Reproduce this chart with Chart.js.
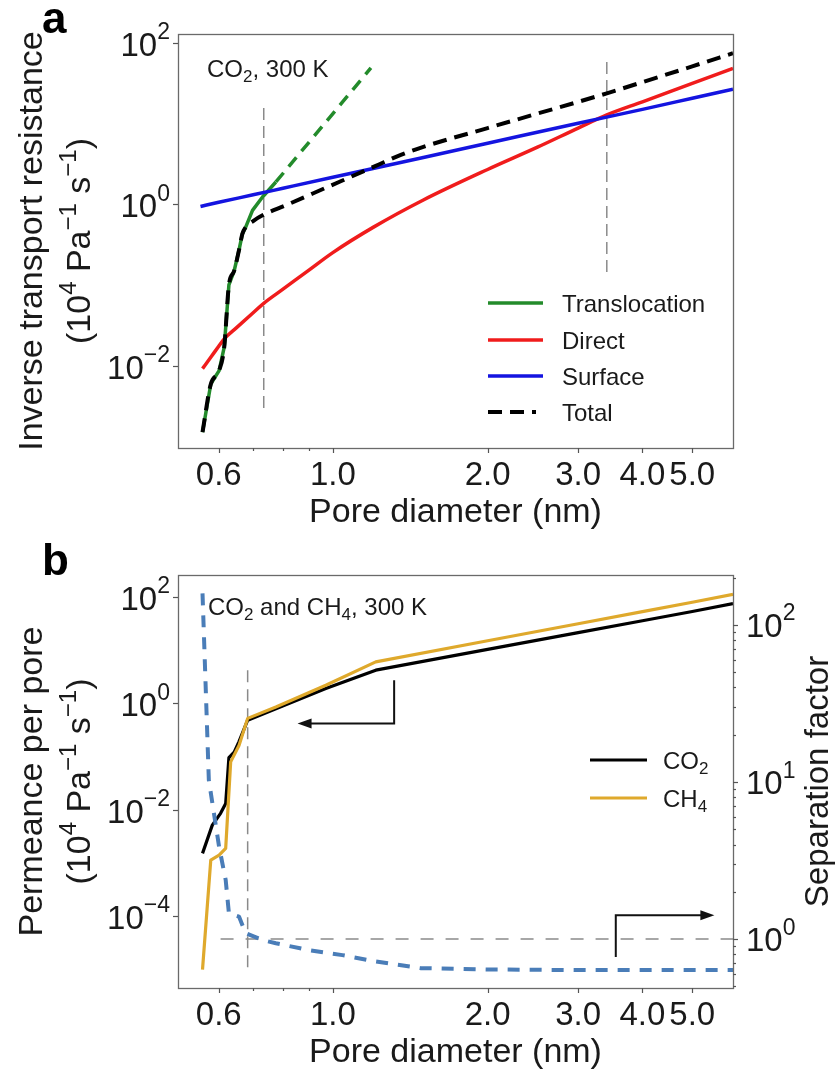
<!DOCTYPE html>
<html>
<head>
<meta charset="utf-8">
<script src="https://cdn.jsdelivr.net/npm/chart.js@4/dist/chart.umd.min.js"></script>
<style>
  html, body { margin: 0; padding: 0; background: #ffffff; }
  #wrap { position: relative; width: 835px; height: 1074px; overflow: hidden; }
  canvas { position: absolute; left: 0; }
  #panelA { top: 0; }
  #panelB { top: 532px; }
</style>
</head>
<body>
<div id="wrap">
  <canvas id="panelA" width="835" height="532"></canvas>
  <canvas id="panelB" width="835" height="542"></canvas>
</div>
<script>
// ---------- Panel a: inverse transport resistance of CO2 at 300 K ----------
const diamTranslocation = [0.558, 0.579, 0.601, 0.615, 0.628, 0.643, 0.657, 0.667, 0.677, 0.698, 0.730, 0.775, 1.186];
const translocation     = [0.0015, 0.0059, 0.0087, 0.017, 0.10, 0.15, 0.27, 0.43, 0.52, 0.84, 1.23, 1.89, 48.9];
const translocationDashedFrom = 0.775;   // beyond this diameter the curve is an extrapolation

const diamDirect = [0.558, 0.580, 0.600, 0.615, 0.650, 0.700, 0.733, 0.80, 0.90, 1.0, 1.2, 1.5, 2.0, 2.5, 3.0, 3.41, 4.0, 5.0, 6.0];
const direct     = [0.0092, 0.0129, 0.0174, 0.0215, 0.0296, 0.0453, 0.0589, 0.0887, 0.154, 0.252, 0.521, 1.13, 2.7, 5.1, 8.8, 12.8, 18.6, 31.5, 48.3];

const diamSurface = [0.553, 0.6, 0.7, 0.8, 1.0, 1.5, 2.0, 3.0, 4.0, 5.0, 6.0];
const surface     = [0.94, 1.06, 1.31, 1.58, 2.16, 3.8, 5.7, 10.1, 15.0, 20.6, 26.7];

const diamTotal = [0.558, 0.579, 0.601, 0.615, 0.628, 0.643, 0.657, 0.667, 0.677, 0.700, 0.730, 0.81, 0.969, 1.212, 1.356, 1.5, 2.0, 2.5, 3.0, 3.41, 4.0, 5.0, 6.0];
const total     = [0.0015, 0.0059, 0.0087, 0.017, 0.10, 0.15, 0.27, 0.43, 0.52, 0.62, 0.73, 0.97, 1.6, 2.99, 4.1, 5.15, 8.8, 13.3, 18.6, 23.7, 32.6, 51.2, 74.5];

// vertical guide lines (diameter, upper and lower end)
const guideDiamA   = [0.734, 3.41];
const guideTopA    = [15.6, 58];
const guideBottomA = [0.00276, 0.124];

// ---------- Panel b: permeance per pore and separation factor ----------
const diamCO2 = [0.558, 0.583, 0.605, 0.619, 0.628, 0.643, 0.657, 0.683, 0.775, 0.969, 1.212, 2.0, 3.0, 4.0, 5.0, 6.0];
const permCO2 = [0.0015, 0.0051, 0.0085, 0.013, 0.095, 0.12, 0.19, 0.48, 0.79, 1.89, 4.2, 10.3, 21.3, 35.7, 53.4, 74.8];

const diamCH4 = [0.558, 0.579, 0.601, 0.619, 0.633, 0.657, 0.683, 0.775, 0.969, 1.212, 2.0, 3.0, 4.0, 5.0, 6.0];
const permCH4 = [0.0000098, 0.00112, 0.00139, 0.00186, 0.079, 0.16, 0.52, 0.85, 2.18, 6.0, 15.0, 31.4, 52.9, 79.5, 112];

const diamSep   = [0.558, 0.574, 0.601, 0.619, 0.628, 0.657, 0.677, 0.730, 0.775, 0.90, 1.044, 1.212, 1.48, 2.0, 3.0, 6.0];
const sepFactor = [159, 10.3, 3.87, 2.38, 1.46, 1.39, 1.09, 0.985, 0.94, 0.85, 0.79, 0.72, 0.653, 0.64, 0.635, 0.635];

const guideDiamB = 0.683, guideTopB = 4.17, guideBottomB = 0.0000083;   // vertical, left axis
const unitySep = 1, unityFrom = 0.605, unityTo = 6.0;                    // horizontal, right axis

// arrows pointing at the axis each family of curves belongs to
const arrowLeftX  = [1.316, 1.316, 0.854], arrowLeftY  = [2.71, 0.415, 0.415];
const arrowRightX = [3.55, 3.55, 5.52],    arrowRightY = [0.77, 1.42, 1.42];

// ---------- axes ----------
const diamMin = 0.5, diamMax = 6.0;
const diamTicks = [0.6, 1.0, 2.0, 3.0, 4.0, 5.0];
const diamTickLabels = ['0.6', '1.0', '2.0', '3.0', '4.0', '5.0'];
const diamMinorTicks = [0.7, 0.8, 0.9];
const yRangeA = [0.000955, 128.8], yExpA = [-2, 0, 2];
const yRangeB = [0.0000044, 259],  yExpB = [-4, -2, 0, 2];
const sepRange = [0.488, 208],     sepExp = [0, 1, 2];
const sepMinor = [0.5, 0.6, 0.7, 0.8, 0.9, 2, 3, 4, 5, 6, 7, 8, 9, 20, 30, 40, 50, 60, 70, 80, 90, 200];

// ---------- styling ----------
const FONT = '"Liberation Sans", Arial, Helvetica, sans-serif';
const TEXT = '#1a1a1a', FRAME = '#6a6a6a', TICK = '#555555', GUIDE = '#8a8a8a';
const TICK_PX = 33, TITLE_PX = 34, NOTE_PX = 24, PANEL_PX = 44;

const pts = (xs, ys) => xs.map((x, i) => ({ x, y: ys[i] }));

// text with ^{..} superscripts and _{..} subscripts
function parseRich(str) {
  const parts = [];
  const re = /(\^\{[^}]*\}|_\{[^}]*\})/g;
  let last = 0, m;
  while ((m = re.exec(str))) {
    if (m.index > last) parts.push({ t: str.slice(last, m.index), s: 0 });
    parts.push({ t: m[0].slice(2, -1), s: m[0][0] === '^' ? 1 : -1 });
    last = m.index + m[0].length;
  }
  if (last < str.length) parts.push({ t: str.slice(last), s: 0 });
  return parts;
}
function richWidth(ctx, parts, size, bold) {
  let w = 0;
  for (const p of parts) {
    ctx.font = `${bold ? 'bold ' : ''}${p.s ? Math.round(size * 0.7) : size}px ${FONT}`;
    w += ctx.measureText(p.t).width;
  }
  return w;
}
function drawRich(ctx, str, x, y, size, align, opts = {}) {
  const parts = parseRich(str);
  const w = richWidth(ctx, parts, size, opts.bold);
  let cx = align === 'center' ? x - w / 2 : align === 'right' ? x - w : x;
  ctx.fillStyle = opts.color || TEXT;
  ctx.textAlign = 'left';
  ctx.textBaseline = 'alphabetic';
  const rise = opts.rise || 0.42;
  for (const p of parts) {
    const sz = p.s ? Math.round(size * 0.7) : size;
    ctx.font = `${opts.bold ? 'bold ' : ''}${sz}px ${FONT}`;
    const dy = p.s > 0 ? -size * rise : (p.s < 0 ? size * 0.2 : 0);
    ctx.fillText(p.t, cx, y + dy);
    cx += ctx.measureText(p.t).width;
  }
}
function drawRotated(ctx, str, x, y, size) {
  ctx.save();
  ctx.translate(x, y);
  ctx.rotate(-Math.PI / 2);
  drawRich(ctx, str, 0, 0, size, 'center');
  ctx.restore();
}
function seg(ctx, x1, y1, x2, y2) {
  ctx.beginPath(); ctx.moveTo(x1, y1); ctx.lineTo(x2, y2); ctx.stroke();
}
const sharp = v => Math.round(v) + 0.5;
const expLabel = e => '10^{' + (e < 0 ? '\u2212' + (-e) : String(e)) + '}';

function drawFrame(ctx, a) {
  ctx.save();
  ctx.strokeStyle = FRAME; ctx.lineWidth = 1.3; ctx.setLineDash([]);
  ctx.strokeRect(sharp(a.left), sharp(a.top), Math.round(a.right - a.left), Math.round(a.bottom - a.top));
  ctx.restore();
}
function drawDiamAxis(ctx, chart) {
  const sx = chart.scales.x, a = chart.chartArea;
  ctx.save();
  ctx.strokeStyle = TICK; ctx.lineWidth = 1.2;
  diamTicks.forEach((v, i) => {
    const px = sx.getPixelForValue(v);
    seg(ctx, sharp(px), a.bottom, sharp(px), a.bottom + 5);
    drawRich(ctx, diamTickLabels[i], px, a.bottom + 37, TICK_PX, 'center');
  });
  diamMinorTicks.forEach(v => {
    const px = sx.getPixelForValue(v);
    seg(ctx, sharp(px), a.bottom, sharp(px), a.bottom + 3);
  });
  drawRich(ctx, 'Pore diameter (nm)', (a.left + a.right) / 2, a.bottom + 74, TITLE_PX, 'center');
  ctx.restore();
}
function drawLeftAxis(ctx, scale, a, exps) {
  ctx.save();
  ctx.strokeStyle = TICK; ctx.lineWidth = 1.2;
  exps.forEach(e => {
    const py = scale.getPixelForValue(Math.pow(10, e));
    seg(ctx, a.left - 5, sharp(py), a.left, sharp(py));
    drawRich(ctx, expLabel(e), a.left - 8, py + 13, TICK_PX, 'right', { rise: 0.5 });
  });
  ctx.restore();
}
function drawLegendLine(ctx, ds, x1, x2, y) {
  ctx.save();
  ctx.strokeStyle = ds.borderColor; ctx.lineWidth = ds.borderWidth;
  ctx.setLineDash(ds.borderDash || []);
  seg(ctx, x1, y, x2, y);
  ctx.restore();
}
function drawArrow(ctx, chart, xs, ys, yScaleId) {
  const sx = chart.scales.x, sy = chart.scales[yScaleId];
  const p = xs.map((x, i) => [sx.getPixelForValue(x), sy.getPixelForValue(ys[i])]);
  ctx.save();
  ctx.strokeStyle = '#111'; ctx.fillStyle = '#111'; ctx.lineWidth = 2; ctx.setLineDash([]);
  const n = p.length;
  const [ex, ey] = p[n - 1], [bx, by] = p[n - 2];
  const ang = Math.atan2(ey - by, ex - bx), L = 14, H = 5;
  ctx.beginPath();
  ctx.moveTo(p[0][0], p[0][1]);
  for (let i = 1; i < n - 1; i++) ctx.lineTo(p[i][0], p[i][1]);
  ctx.lineTo(ex - Math.cos(ang) * L * 0.8, ey - Math.sin(ang) * L * 0.8);
  ctx.stroke();
  ctx.beginPath();
  ctx.moveTo(ex, ey);
  ctx.lineTo(ex - Math.cos(ang) * L - Math.sin(ang) * H, ey - Math.sin(ang) * L + Math.cos(ang) * H);
  ctx.lineTo(ex - Math.cos(ang) * L + Math.sin(ang) * H, ey - Math.sin(ang) * L - Math.cos(ang) * H);
  ctx.closePath(); ctx.fill();
  ctx.restore();
}

const hiddenLog = (min, max, position) => ({ type: 'logarithmic', min, max, position, display: false });
const baseOptions = {
  responsive: false,
  animation: false,
  devicePixelRatio: 1,
  events: [],
  elements: {
    point: { radius: 0, hoverRadius: 0 },
    line: { tension: 0, fill: false, borderJoinStyle: 'round', borderCapStyle: 'butt' }
  },
  plugins: { legend: { display: false }, tooltip: { enabled: false }, title: { display: false } }
};

// ---------- panel a ----------
const decorA = {
  id: 'decorA',
  afterDraw(chart) {
    const ctx = chart.ctx, a = chart.chartArea;
    drawFrame(ctx, a);
    drawDiamAxis(ctx, chart);
    drawLeftAxis(ctx, chart.scales.y, a, yExpA);
    const cy = (a.top + a.bottom) / 2;
    drawRotated(ctx, 'Inverse transport resistance', 42, cy, TITLE_PX);
    drawRotated(ctx, '(10^{4} Pa^{\u22121} s^{\u22121})', 90, cy, TITLE_PX);
    drawRich(ctx, 'CO_{2}, 300 K', 207, 77, NOTE_PX, 'left');
    drawRich(ctx, 'a', 42, 33, PANEL_PX, 'left', { bold: true, color: '#000' });
    // legend
    const byLabel = l => chart.data.datasets.find(d => d.label === l);
    const rows = ['Translocation', 'Direct', 'Surface', 'Total'];
    const rowY = [303, 340, 376, 412];
    rows.forEach((l, i) => {
      const ds = byLabel(l);
      drawLegendLine(ctx, ds, 488, l === 'Total' ? 536 : 543, rowY[i]);
      drawRich(ctx, l, 562, rowY[i] + 9, NOTE_PX, 'left');
    });
  }
};

const guideStyle = { borderColor: GUIDE, borderWidth: 1.5, borderDash: [12, 6], order: 10 };

new Chart(document.getElementById('panelA'), {
  type: 'line',
  data: {
    datasets: [
      { label: 'Total', data: pts(diamTotal, total), borderColor: '#000000', borderWidth: 4, borderDash: [14, 8], cubicInterpolationMode: 'monotone', order: 0 },
      { label: 'Surface', data: pts(diamSurface, surface), borderColor: '#1414e0', borderWidth: 3.5, cubicInterpolationMode: 'monotone', order: 1 },
      { label: 'Direct', data: pts(diamDirect, direct), borderColor: '#f01c1c', borderWidth: 3.5, cubicInterpolationMode: 'monotone', order: 2 },
      { label: 'Translocation', data: pts(diamTranslocation, translocation), borderColor: '#238b2b', borderWidth: 3.5, order: 3,
        segment: { borderDash: c => (c.p0.parsed.x >= translocationDashedFrom ? [12, 8] : undefined) } },
      Object.assign({ label: 'guide1', data: [{ x: guideDiamA[0], y: guideTopA[0] }, { x: guideDiamA[0], y: guideBottomA[0] }] }, guideStyle),
      Object.assign({ label: 'guide2', data: [{ x: guideDiamA[1], y: guideTopA[1] }, { x: guideDiamA[1], y: guideBottomA[1] }] }, guideStyle)
    ]
  },
  options: Object.assign({}, baseOptions, {
    layout: { padding: { left: 178, top: 34, right: 102, bottom: 84 } },
    scales: {
      x: hiddenLog(diamMin, diamMax, 'bottom'),
      y: hiddenLog(yRangeA[0], yRangeA[1], 'left')
    }
  }),
  plugins: [decorA]
});

// ---------- panel b ----------
const decorB = {
  id: 'decorB',
  afterDraw(chart) {
    const ctx = chart.ctx, a = chart.chartArea;
    drawFrame(ctx, a);
    drawDiamAxis(ctx, chart);
    drawLeftAxis(ctx, chart.scales.y, a, yExpB);
    // right axis: separation factor
    const sr = chart.scales.y2;
    ctx.save();
    ctx.strokeStyle = TICK; ctx.lineWidth = 1.2;
    sepExp.forEach(e => {
      const py = sr.getPixelForValue(Math.pow(10, e));
      seg(ctx, a.right, sharp(py), a.right + 5, sharp(py));
      drawRich(ctx, expLabel(e), a.right + 13, py + 12, TICK_PX, 'left', { rise: 0.5 });
    });
    sepMinor.forEach(v => {
      const py = sr.getPixelForValue(v);
      seg(ctx, a.right, sharp(py), a.right + 3, sharp(py));
    });
    ctx.restore();
    const cy = (a.top + a.bottom) / 2;
    drawRotated(ctx, 'Permeance per pore', 42, cy, TITLE_PX);
    drawRotated(ctx, '(10^{4} Pa^{\u22121} s^{\u22121})', 90, cy, TITLE_PX);
    drawRotated(ctx, 'Separation factor', 828, cy, 33);
    drawRich(ctx, 'CO_{2} and CH_{4}, 300 K', 208, 83, NOTE_PX, 'left');
    drawRich(ctx, 'b', 42, 43, PANEL_PX, 'left', { bold: true, color: '#000' });
    drawArrow(ctx, chart, arrowLeftX, arrowLeftY, 'y');
    drawArrow(ctx, chart, arrowRightX, arrowRightY, 'y2');
    // legend
    const dsCO2 = chart.data.datasets.find(d => d.label === 'CO2');
    const dsCH4 = chart.data.datasets.find(d => d.label === 'CH4');
    drawLegendLine(ctx, dsCO2, 590, 647, 228);
    drawRich(ctx, 'CO_{2}', 663, 237, NOTE_PX, 'left');
    drawLegendLine(ctx, dsCH4, 590, 647, 266);
    drawRich(ctx, 'CH_{4}', 663, 275, NOTE_PX, 'left');
  }
};

new Chart(document.getElementById('panelB'), {
  type: 'line',
  data: {
    datasets: [
      { label: 'Separation factor', data: pts(diamSep, sepFactor), yAxisID: 'y2', borderColor: '#4a7db8', borderWidth: 4, borderDash: [12, 10], order: 0 },
      { label: 'CH4', data: pts(diamCH4, permCH4), yAxisID: 'y', borderColor: '#dfa92c', borderWidth: 3.2, order: 1 },
      { label: 'CO2', data: pts(diamCO2, permCO2), yAxisID: 'y', borderColor: '#000000', borderWidth: 3.2, order: 2 },
      { label: 'guideV', data: [{ x: guideDiamB, y: guideTopB }, { x: guideDiamB, y: guideBottomB }], yAxisID: 'y',
        borderColor: GUIDE, borderWidth: 1.5, borderDash: [12, 7], order: 10 },
      { label: 'guideH', data: [{ x: unityFrom, y: unitySep }, { x: unityTo, y: unitySep }], yAxisID: 'y2',
        borderColor: GUIDE, borderWidth: 1.5, borderDash: [13, 12], order: 11 }
    ]
  },
  options: Object.assign({}, baseOptions, {
    layout: { padding: { left: 178, top: 43, right: 102, bottom: 86 } },
    scales: {
      x: hiddenLog(diamMin, diamMax, 'bottom'),
      y: hiddenLog(yRangeB[0], yRangeB[1], 'left'),
      y2: hiddenLog(sepRange[0], sepRange[1], 'right')
    }
  }),
  plugins: [decorB]
});
</script>
</body>
</html>
